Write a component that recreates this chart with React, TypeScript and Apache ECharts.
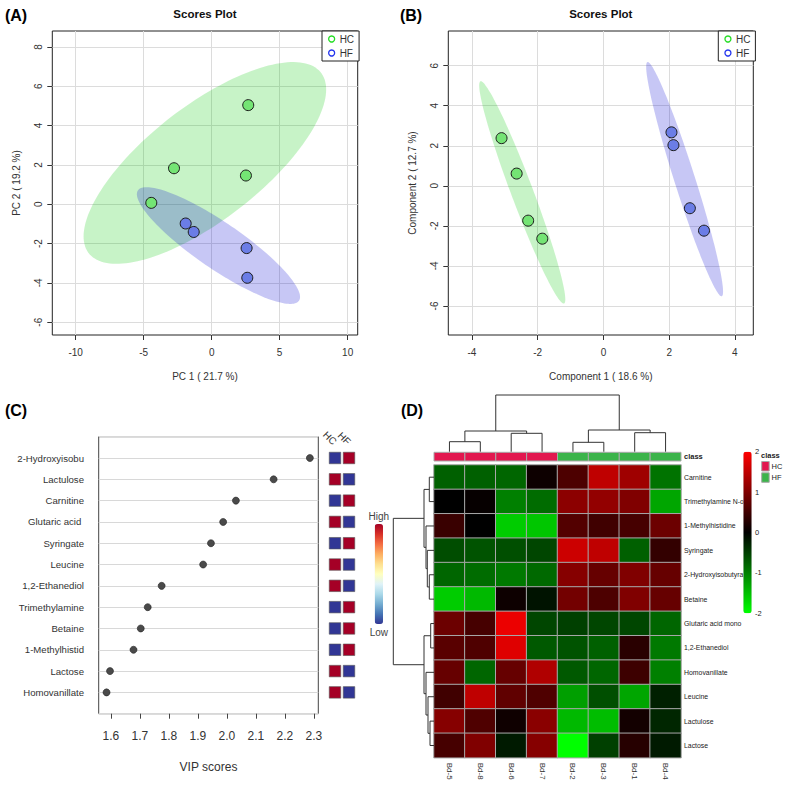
import React, { useEffect, useRef } from "react";
import * as echarts from "echarts";

const FONT = "'Liberation Sans', Arial, sans-serif";

// ---------- Panel A : PCA scores ----------
const groups = ["HC", "HF"];
const pcaHC = [[2.69, 5.04], [-2.77, 1.83], [2.52, 1.46], [-4.44, 0.07]];
const pcaHF = [[-1.91, -0.98], [-1.32, -1.41], [2.57, -2.23], [2.62, -3.74]];
// ellipse: [centreX, centreY, halfWidthX, halfHeightY, correlation]
const pcaEllipseHC = [-0.5, 2.1, 8.92, 5.13, 0.728];
const pcaEllipseHF = [0.5, -2.1, 6.0, 2.97, -0.88];
const pcaXTicks = [-10, -5, 0, 5, 10];
const pcaYTicks = [-6, -4, -2, 0, 2, 4, 6, 8];

// ---------- Panel B : PLS-DA scores ----------
const plsHC = [[-3.1, 2.38], [-2.64, 0.61], [-2.29, -1.74], [-1.86, -2.64]];
const plsHF = [[2.07, 2.67], [2.13, 2.03], [2.63, -1.12], [3.06, -2.24]];
const plsEllipseHC = [-2.47, -0.33, 1.31, 5.55, -0.962];
const plsEllipseHF = [2.47, 0.33, 1.17, 5.85, -0.959];
const plsXTicks = [-4, -2, 0, 2, 4];
const plsYTicks = [-6, -4, -2, 0, 2, 4, 6];

// ---------- Panel C : VIP scores ----------
const vipNames = [
  "2-Hydroxyisobu", "Lactulose", "Carnitine", "Glutaric acid ", "Syringate", "Leucine",
  "1,2-Ethanediol", "Trimethylamine", "Betaine", "1-Methylhistid", "Lactose", "Homovanillate",
];
const vipScores = [2.286, 2.161, 2.031, 1.987, 1.945, 1.918, 1.775, 1.727, 1.703, 1.678, 1.597, 1.585];
const vipHighInHC = [0, 1, 0, 1, 0, 1, 1, 0, 0, 0, 1, 1];
const vipTicks = [1.6, 1.7, 1.8, 1.9, 2.0, 2.1, 2.2, 2.3];

// ---------- Panel D : heatmap ----------
const heatCols = ["Bd-5", "Bd-8", "Bd-6", "Bd-7", "Bd-2", "Bd-3", "Bd-1", "Bd-4"];
const heatClass = ["HC", "HC", "HC", "HC", "HF", "HF", "HF", "HF"];
const heatRows = [
  "Carnitine", "Trimethylamine N-o", "1-Methylhistidine", "Syringate", "2-Hydroxyisobutyra", "Betaine",
  "Glutaric acid mono", "1,2-Ethanediol", "Homovanillate", "Leucine", "Lactulose", "Lactose",
];
const heatValues = [
  [-0.75, -0.75, -0.8, 0.1, 0.6, 1.5, 1.25, -0.9],
  [0.0, 0.05, -1.0, -0.85, 1.1, 1.15, 1.0, -1.3],
  [0.45, 0.0, -1.6, -1.55, 0.65, 0.5, 0.55, 0.85],
  [-0.6, -0.65, -0.62, -0.55, 1.6, 1.5, -0.75, 0.4],
  [-0.8, -0.85, -0.95, -0.82, 1.05, 0.8, 1.0, 0.8],
  [-1.6, -1.45, 0.1, -0.15, 0.9, 0.6, 1.0, 0.8],
  [0.85, 0.55, 1.85, -0.55, -0.5, -0.55, -0.55, -0.8],
  [0.7, 0.62, 1.75, -0.7, -0.65, -0.75, 0.32, -0.95],
  [0.8, -0.8, 0.8, 1.38, -0.7, -0.8, 0.48, -1.0],
  [0.5, 1.5, 0.75, 0.62, -1.25, -0.62, -1.3, -0.25],
  [1.05, 0.62, 0.12, 1.08, -1.45, -1.48, 0.15, -0.3],
  [0.55, 1.0, -0.2, 1.05, -2.0, -0.5, 0.3, -0.2],
];
const heatTicks = [2, 1, 0, -1, -2];
const classColors = ["#e2174f", "#3bb44a"];
// merges: [nodeA, nodeB, height]; leaves are 0..n-1, new nodes numbered from n
const colMerges = [[4, 5, 0.94], [0, 1, 1.0], [2, 3, 1.84], [6, 7, 1.9], [9, 10, 2.07], [8, 11, 2.17], [12, 13, 5.67]];
const rowMerges = [
  [6, 7, 0.33], [10, 11, 0.4], [0, 1, 0.47], [4, 5, 0.47], [9, 13, 0.6], [3, 15, 0.67],
  [2, 17, 0.8], [8, 16, 0.8], [14, 18, 1.0], [12, 19, 1.0], [20, 21, 4.07],
];

const rdylbu = ["#313695", "#4575b4", "#74add1", "#abd9e9", "#e0f3f8", "#ffffbf", "#fee090", "#fdae61", "#f46d43", "#d73027", "#a50026"];

function dendroSegments(n: number, merges: number[][]) {
  const pos: number[] = [];
  const h: number[] = [];
  for (let i = 0; i < n; i++) { pos.push(i + 0.5); h.push(0); }
  const segs: number[][] = [];
  merges.forEach(([a, b, ht]) => {
    segs.push([pos[a], h[a], pos[b], h[b], ht]);
    pos.push((pos[a] + pos[b]) / 2);
    h.push(ht);
  });
  return segs;
}

function ellipseSeries(params: number[], color: string, axis: number) {
  return {
    type: "custom", name: "ell" + axis + color, xAxisIndex: axis, yAxisIndex: axis, silent: true,
    data: [params],
    renderItem: (_p: any, api: any) => {
      const cx = api.value(0), cy = api.value(1), wx = api.value(2), wy = api.value(3), r = api.value(4);
      const s = Math.sqrt(1 - r * r);
      const pts: number[][] = [];
      for (let k = 0; k < 160; k++) {
        const t = (2 * Math.PI * k) / 160;
        pts.push(api.coord([cx + wx * Math.cos(t), cy + wy * (r * Math.cos(t) + s * Math.sin(t))]));
      }
      return { type: "polygon", shape: { points: pts }, style: { fill: color, stroke: null } };
    },
  };
}

function scoreAxes(idx: number, min: number, max: number, ticks: number[], name: string, isY: boolean) {
  return {
    gridIndex: idx, type: "value", min, max,
    axisLine: { show: false, onZero: false },
    axisTick: { show: true, customValues: ticks, length: 5, lineStyle: { color: "#333" } },
    axisLabel: {
      customValues: ticks, fontSize: 10, color: "#333", fontFamily: FONT,
      margin: isY ? 9 : 12, rotate: isY ? 90 : 0,
    },
    splitLine: { show: true, lineStyle: { color: "#dcdcdc", width: 1 } },
    name, nameLocation: "middle", nameGap: isY ? 31 : 36, nameRotate: isY ? 90 : 0,
    nameTextStyle: { fontSize: 10, color: "#333", fontFamily: FONT },
  };
}

const ptStyle = (c: string) => ({ color: c, borderColor: "#1a1a1a", borderWidth: 1, opacity: 1 });
const hcFill = "#74e474";
const hfFill = "#6b7de6";

export default function App() {
  const ref = useRef<HTMLDivElement>(null);
  useEffect(() => {
    if (!ref.current) return;
    const chart = echarts.init(ref.current, null, { renderer: "svg" });
    const colSegs = dendroSegments(heatCols.length, colMerges);
    const rowSegs = dendroSegments(heatRows.length, rowMerges);
    const heatData: number[][] = [];
    heatValues.forEach((row, r) => row.forEach((v, c) => heatData.push([c, r, v])));
    const squareData: number[][] = [];
    vipHighInHC.forEach((hc, i) => {
      squareData.push([0, i + 1, hc]);
      squareData.push([1, i + 1, 1 - hc]);
    });

    const cbTop = 451.7, cbH = 161.6;
    const legendIcon = (c: string) => ({ color: "#ffffff", borderColor: c, borderWidth: 1.3 });

    const option: any = {
      animation: false,
      textStyle: { fontFamily: FONT },
      grid: [
        { left: 52.3, top: 31, width: 305.4, height: 304, show: true, borderColor: "#222", borderWidth: 1, backgroundColor: "transparent" },
        { left: 448.3, top: 31, width: 305, height: 304, show: true, borderColor: "#222", borderWidth: 1, backgroundColor: "transparent" },
        { left: 98.7, top: 436.7, width: 219.6, height: 277, show: true, borderColor: "#444", borderWidth: 1, backgroundColor: "transparent" },
        { left: 328, top: 445.2, width: 28, height: 268.5 },
        { left: 434, top: 465, width: 247, height: 292.7 },
        { left: 434, top: 452.3, width: 247, height: 8.7 },
        { left: 434, top: 395, width: 247, height: 56.7 },
        { left: 393.3, top: 465, width: 40.7, height: 292.7 },
      ],
      xAxis: [
        scoreAxes(0, -11.72, 10.74, pcaXTicks, "PC 1 ( 21.7 %)", false),
        scoreAxes(1, -4.72, 4.56, plsXTicks, "Component 1 ( 18.6 %)", false),
        {
          gridIndex: 2, type: "value", min: 1.558, max: 2.315,
          axisLine: { show: false, onZero: false },
          axisTick: { show: true, customValues: vipTicks, length: 5, lineStyle: { color: "#444" } },
          axisLabel: { customValues: vipTicks, formatter: (v: number) => v.toFixed(1), fontSize: 12, color: "#333", margin: 16 },
          splitLine: { show: false },
          name: "VIP scores", nameLocation: "middle", nameGap: 47, nameTextStyle: { fontSize: 12, color: "#333" },
        },
        {
          gridIndex: 3, type: "category", data: groups, position: "top",
          axisLine: { show: false }, axisTick: { show: false },
          axisLabel: { rotate: 45, interval: 0, fontSize: 10, color: "#333", margin: 2 },
        },
        {
          gridIndex: 4, type: "category", data: heatCols, position: "bottom",
          axisLine: { show: false }, axisTick: { show: false },
          axisLabel: { rotate: -90, interval: 0, fontSize: 8, color: "#333", margin: 5 },
        },
        { gridIndex: 5, type: "category", data: heatCols, show: false },
        { gridIndex: 6, type: "value", min: 0, max: heatCols.length, show: false },
        { gridIndex: 7, type: "value", min: 0, max: 4.07, inverse: true, show: false },
      ],
      yAxis: [
        scoreAxes(0, -6.65, 8.81, pcaYTicks, "PC 2 ( 19.2 %)", true),
        scoreAxes(1, -7.45, 7.73, plsYTicks, "Component 2 ( 12.7 %)", true),
        {
          gridIndex: 2, type: "value", min: 0, max: 13, interval: 1, inverse: true,
          axisLine: { show: false, onZero: false }, axisTick: { show: false },
          axisLabel: { formatter: (v: number) => vipNames[v - 1] ?? "", fontSize: 9.6, color: "#333", margin: 14.7 },
          splitLine: { show: true, lineStyle: { color: "#d8d8d8" } },
        },
        { gridIndex: 3, type: "value", min: 0.4, max: 13, inverse: true, show: false },
        {
          gridIndex: 4, type: "category", data: heatRows, inverse: true, position: "right",
          axisLine: { show: false }, axisTick: { show: false },
          axisLabel: { interval: 0, fontSize: 6.9, color: "#222", margin: 3 },
        },
        {
          gridIndex: 5, type: "category", data: ["class"], position: "right",
          axisLine: { show: false }, axisTick: { show: false },
          axisLabel: { fontSize: 7.5, fontWeight: "bold", color: "#222", margin: 3 },
        },
        { gridIndex: 6, type: "value", min: 0, max: 5.67, show: false },
        { gridIndex: 7, type: "value", min: 0, max: heatRows.length, inverse: true, show: false },
      ],
      legend: [
        {
          left: 322, top: 31, orient: "vertical", selectedMode: false,
          data: [
            { name: "HC", icon: "circle", itemStyle: legendIcon("#22dd22") },
            { name: "HF", icon: "circle", itemStyle: legendIcon("#2233ee") },
          ],
          itemWidth: 6, itemHeight: 6, itemGap: 4, padding: [3, 5, 3, 6],
          borderColor: "#222", borderWidth: 1, backgroundColor: "#fff",
          textStyle: { fontSize: 10, color: "#333" },
        },
        {
          left: 718.3, top: 31, orient: "vertical", selectedMode: false,
          data: [
            { name: "HC", icon: "circle", itemStyle: legendIcon("#22dd22") },
            { name: "HF", icon: "circle", itemStyle: legendIcon("#2233ee") },
          ],
          itemWidth: 6, itemHeight: 6, itemGap: 4, padding: [3, 5, 3, 6],
          borderColor: "#222", borderWidth: 1, backgroundColor: "#fff",
          textStyle: { fontSize: 10, color: "#333" },
        },
      ],
      visualMap: [
        {
          type: "continuous", seriesIndex: 10, dimension: 2, min: -2, max: 2,
          inRange: { color: ["#00ff00", "#000000", "#ff0000"] },
          left: 743.3, top: cbTop, itemWidth: 8.4, itemHeight: cbH, calculable: false, padding: 0,
          hoverLink: false,
        },
        {
          type: "continuous", seriesIndex: 9, dimension: 2, min: 0, max: 1,
          inRange: { color: rdylbu },
          text: ["High", "Low"], textGap: 3, textStyle: { fontSize: 10, color: "#444" },
          left: 368.6, top: 511, itemWidth: 8.3, itemHeight: 100, calculable: false, padding: 0,
          hoverLink: false,
        },
      ],
      series: [
        ellipseSeries(pcaEllipseHC, "rgba(0,200,0,0.22)", 0),
        ellipseSeries(pcaEllipseHF, "rgba(0,0,210,0.22)", 0),
        { type: "scatter", name: "HC", xAxisIndex: 0, yAxisIndex: 0, data: pcaHC, symbolSize: 11, itemStyle: ptStyle(hcFill) },
        { type: "scatter", name: "HF", xAxisIndex: 0, yAxisIndex: 0, data: pcaHF, symbolSize: 11, itemStyle: ptStyle(hfFill) },
        ellipseSeries(plsEllipseHC, "rgba(0,200,0,0.22)", 1),
        ellipseSeries(plsEllipseHF, "rgba(0,0,210,0.22)", 1),
        { type: "scatter", name: "HC", xAxisIndex: 1, yAxisIndex: 1, data: plsHC, symbolSize: 11, itemStyle: ptStyle(hcFill) },
        { type: "scatter", name: "HF", xAxisIndex: 1, yAxisIndex: 1, data: plsHF, symbolSize: 11, itemStyle: ptStyle(hfFill) },
        {
          type: "scatter", name: "vip", xAxisIndex: 2, yAxisIndex: 2, symbolSize: 7,
          data: vipScores.map((v, i) => [v, i + 1]),
          itemStyle: { color: "#4a4a4a", borderColor: "#222", borderWidth: 0.6, opacity: 1 },
        },
        {
          type: "scatter", name: "vipSquares", xAxisIndex: 3, yAxisIndex: 3, symbol: "rect", symbolSize: 11.5,
          data: squareData, itemStyle: { borderColor: "#555", borderWidth: 0.6, opacity: 1 },
        },
        {
          type: "heatmap", name: "heat", xAxisIndex: 4, yAxisIndex: 4, data: heatData,
          itemStyle: { borderColor: "#a8a8a8", borderWidth: 1 },
        },
        {
          type: "custom", name: "classBar", xAxisIndex: 5, yAxisIndex: 5, silent: true,
          data: heatClass.map((c, i) => [i, 0, groups.indexOf(c)]),
          renderItem: (_p: any, api: any) => {
            const c = api.coord([api.value(0), 0]);
            const sz = api.size([1, 1]);
            return {
              type: "rect",
              shape: { x: c[0] - sz[0] / 2, y: c[1] - sz[1] / 2, width: sz[0], height: sz[1] },
              style: { fill: classColors[api.value(2)], stroke: "#a8a8a8", lineWidth: 1 },
            };
          },
        },
        {
          type: "custom", name: "colDendro", xAxisIndex: 6, yAxisIndex: 6, silent: true, data: colSegs,
          renderItem: (_p: any, api: any) => {
            const pa = api.value(0), ha = api.value(1), pb = api.value(2), hb = api.value(3), ht = api.value(4);
            return {
              type: "polyline",
              shape: { points: [api.coord([pa, ha]), api.coord([pa, ht]), api.coord([pb, ht]), api.coord([pb, hb])] },
              style: { stroke: "#333", lineWidth: 1, fill: null },
            };
          },
        },
        {
          type: "custom", name: "rowDendro", xAxisIndex: 7, yAxisIndex: 7, silent: true, data: rowSegs,
          renderItem: (_p: any, api: any) => {
            const pa = api.value(0), ha = api.value(1), pb = api.value(2), hb = api.value(3), ht = api.value(4);
            return {
              type: "polyline",
              shape: { points: [api.coord([ha, pa]), api.coord([ht, pa]), api.coord([ht, pb]), api.coord([hb, pb])] },
              style: { stroke: "#333", lineWidth: 1, fill: null },
            };
          },
        },
      ],
      graphic: [
        { type: "text", x: 16, y: 15, style: { text: "(A)", fontSize: 16, fontWeight: "bold", fill: "#000", align: "center", verticalAlign: "middle", fontFamily: FONT } },
        { type: "text", x: 411, y: 15, style: { text: "(B)", fontSize: 16, fontWeight: "bold", fill: "#000", align: "center", verticalAlign: "middle", fontFamily: FONT } },
        { type: "text", x: 16, y: 410, style: { text: "(C)", fontSize: 16, fontWeight: "bold", fill: "#000", align: "center", verticalAlign: "middle", fontFamily: FONT } },
        { type: "text", x: 412, y: 410, style: { text: "(D)", fontSize: 16, fontWeight: "bold", fill: "#000", align: "center", verticalAlign: "middle", fontFamily: FONT } },
        { type: "text", x: 205, y: 14, style: { text: "Scores Plot", fontSize: 11.5, fontWeight: "bold", fill: "#111", align: "center", verticalAlign: "middle", fontFamily: FONT } },
        { type: "text", x: 600.8, y: 14, style: { text: "Scores Plot", fontSize: 11.5, fontWeight: "bold", fill: "#111", align: "center", verticalAlign: "middle", fontFamily: FONT } },
        ...heatTicks.map((t) => ({
          type: "text", x: 755, y: cbTop + ((2 - t) / 4) * cbH,
          style: { text: String(t), fontSize: 7.5, fill: "#222", align: "left", verticalAlign: "middle", fontFamily: FONT },
        })),
        { type: "text", x: 761, y: 455, style: { text: "class", fontSize: 7.5, fontWeight: "bold", fill: "#222", align: "left", verticalAlign: "middle", fontFamily: FONT } },
        ...groups.map((g, i) => ({
          type: "rect", shape: { x: 761.7, y: 461.5 + i * 11.3, width: 7.5, height: 9.5 },
          style: { fill: classColors[i], stroke: "#a8a8a8", lineWidth: 1 },
        })),
        ...groups.map((g, i) => ({
          type: "text", x: 771.5, y: 466.2 + i * 11.3,
          style: { text: g, fontSize: 7.5, fill: "#222", align: "left", verticalAlign: "middle", fontFamily: FONT },
        })),
      ],
    };
    chart.setOption(option);
    return () => chart.dispose();
  }, []);
  return <div ref={ref} style={{ position: "fixed", left: 0, top: 0, width: 787, height: 787, background: "#fff" }} />;
}
